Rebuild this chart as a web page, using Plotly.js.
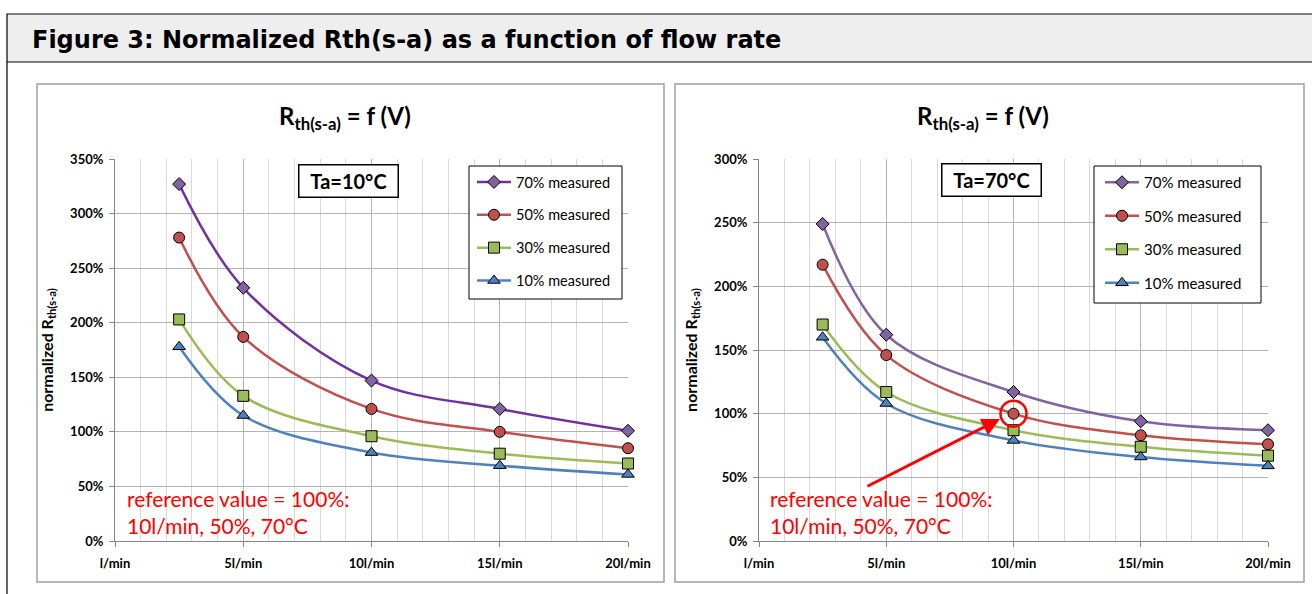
<!DOCTYPE html>
<html>
<head>
<meta charset="utf-8">
<script src="https://cdn.plot.ly/plotly-3.0.1.min.js"></script>
<style>
html,body{margin:0;padding:0;background:#fff;}
#chart{width:1312px;height:594px;}
</style>
</head>
<body>
<div id="chart"></div>
<script>
// ---- data ----
const flowRates = [2.5, 5, 10, 15, 20];
const seriesNames = ['70% measured', '50% measured', '30% measured', '10% measured'];
const ta10_70 = [327, 232, 147, 121, 101];
const ta10_50 = [278, 187, 121, 100, 85];
const ta10_30 = [203, 133, 96, 80, 71];
const ta10_10 = [178, 115, 81, 69, 61];
const ta70_70 = [249, 162, 117, 94, 87];
const ta70_50 = [217, 146, 100, 83, 76];
const ta70_30 = [170, 117, 87, 74, 67];
const ta70_10 = [160, 108, 79, 66, 59];
const xTickVals = [0, 5, 10, 15, 20];
const xTickText = ['l/min', '5l/min', '10l/min', '15l/min', '20l/min'];
const yTickVals10 = [0, 50, 100, 150, 200, 250, 300, 350];
const yTickVals70 = [0, 50, 100, 150, 200, 250, 300];
const referencePoint = {x: 10, y: 100};

// ---- helpers ----
const W = 1312, H = 594;
const px = x => x / W;
const py = y => 1 - y / H;
const FONT = 'Lato, "Open Sans", sans-serif';

const lineColors10 = ['#7030a0', '#c0504d', '#9bbb59', '#4f81bd'];
const lineColors70 = ['#8064a2', '#c0504d', '#9bbb59', '#4f81bd'];
const markerColors = ['#8064a2', '#c0504d', '#9bbb59', '#4f81bd'];
const symbols = ['diamond', 'circle', 'square', 'triangle-up'];
const sizes = [10, 11, 11, 11];

function mk(yv, i, xa, ya, lcol, leg) {
  return {
    x: flowRates, y: yv, type: 'scatter', mode: 'lines+markers',
    name: seriesNames[i], xaxis: xa, yaxis: ya, legend: leg,
    legendgroup: leg + i, cliponaxis: false,
    line: {color: lcol[i], width: 2.5, shape: 'spline', smoothing: 1},
    marker: {symbol: symbols[i], size: sizes[i], color: markerColors[i], line: {color: '#000', width: 1}}
  };
}
const data = [
  mk(ta10_70, 0, 'x', 'y', lineColors10, 'legend'),
  mk(ta10_50, 1, 'x', 'y', lineColors10, 'legend'),
  mk(ta10_30, 2, 'x', 'y', lineColors10, 'legend'),
  mk(ta10_10, 3, 'x', 'y', lineColors10, 'legend'),
  mk(ta70_70, 0, 'x2', 'y2', lineColors70, 'legend2'),
  mk(ta70_50, 1, 'x2', 'y2', lineColors70, 'legend2'),
  mk(ta70_30, 2, 'x2', 'y2', lineColors70, 'legend2'),
  mk(ta70_10, 3, 'x2', 'y2', lineColors70, 'legend2')
];

function xax(dom, anchor) {
  return {
    domain: dom, anchor: anchor, range: [0, 20], fixedrange: true,
    tickmode: 'array', tickvals: xTickVals, ticktext: xTickText,
    tickfont: {family: FONT, size: 13, color: '#000', weight: 'bold'},
    showgrid: true, gridcolor: '#b3b3b3', gridwidth: 1,
    minor: {dtick: 1, showgrid: true, gridcolor: '#d9d9d9', gridwidth: 1},
    showline: true, linecolor: '#868686', linewidth: 1,
    ticks: 'outside', ticklen: 5, tickcolor: '#868686', zeroline: false,
    ticklabelstandoff: 5
  };
}
function yax(dom, anchor, maxv, tv) {
  return {
    domain: dom, anchor: anchor, range: [0, maxv], fixedrange: true,
    tickmode: 'array', tickvals: tv, ticktext: tv.map(v => v + '%'),
    tickfont: {family: FONT, size: 13, color: '#000', weight: 'bold'},
    showgrid: true, gridcolor: '#b3b3b3', gridwidth: 1,
    showline: true, linecolor: '#868686', linewidth: 1,
    ticks: 'outside', ticklen: 5, tickcolor: '#868686', zeroline: false,
    ticklabelstandoff: 3,
    title: {text: 'normalized R<sub>th(s-a)</sub>', font: {family: FONT, size: 16, color: '#000', weight: 'bold'}, standoff: 12}
  };
}
const yDom = [py(541), py(159)];

function legendCfg(x, y, fs) {
  return {
    x: x, y: y, xanchor: 'left', yanchor: 'top', xref: 'paper', yref: 'paper',
    bgcolor: 'rgba(0,0,0,0)', borderwidth: 0,
    font: {family: FONT, size: fs, color: '#000'},
    tracegroupgap: 11, itemwidth: 34
  };
}

const red = '#ff0000';
function ann(text, x, y, extra) {
  return Object.assign({text: text, x: px(x), y: py(y), xref: 'paper', yref: 'paper', showarrow: false,
    xanchor: 'center', yanchor: 'middle'}, extra);
}
const titleFont = {family: FONT, size: 24, color: '#000', weight: 'bold'};
const taFont = {family: FONT, size: 20, color: '#000', weight: 'bold'};
const redFont = {family: FONT, size: 21, color: red};
const taBox = {font: taFont, bordercolor: '#000', borderwidth: 1.5, bgcolor: '#fff', borderpad: 3, width: 92, height: 25};
const annotations = [
  ann('<b>Figure 3: Normalized Rth(s-a) as a function of flow rate</b>', 30, 40,
      {xanchor: 'left', font: {family: 'DejaVu Sans', size: 24, color: '#000'}}),
  ann('R<sub>th(s-a)</sub> = f (V)', 345, 118, {font: titleFont}),
  ann('R<sub>th(s-a)</sub> = f (V)', 983, 118, {font: titleFont}),
  ann('Ta=10°C', 348, 181, taBox),
  ann('Ta=70°C', 991, 180, taBox),
  ann('reference value = 100%:<br>10l/min, 50%, 70°C', 125, 512, {xanchor: 'left', align: 'left', font: redFont}),
  ann('reference value = 100%:<br>10l/min, 50%, 70°C', 768, 512, {xanchor: 'left', align: 'left', font: redFont}),
  {text: '', x: px(1000), y: py(419), xref: 'paper', yref: 'paper', showarrow: true, ax: -134, ay: 68,
   arrowhead: 2, arrowsize: 1.2, arrowwidth: 3, arrowcolor: red, standoff: 0}
];

const shapes = [
  // banner
  {type: 'rect', xref: 'paper', yref: 'paper', x0: px(7), x1: px(1320), y0: py(62), y1: py(14), fillcolor: '#eeeeee', line: {color: '#000', width: 1.2}, layer: 'below'},
  {type: 'line', xref: 'paper', yref: 'paper', x0: px(7), x1: px(7), y0: py(62), y1: py(600), line: {color: '#000', width: 1.2}},
  // chart boxes
  {type: 'rect', xref: 'paper', yref: 'paper', x0: px(37), x1: px(664), y0: py(582), y1: py(84), line: {color: '#a0a0a0', width: 1.5}, layer: 'below'},
  {type: 'rect', xref: 'paper', yref: 'paper', x0: px(675), x1: px(1304), y0: py(582), y1: py(84), line: {color: '#a0a0a0', width: 1.5}, layer: 'below'},
  // legend frames
  {type: 'rect', xref: 'paper', yref: 'paper', x0: px(469), x1: px(622), y0: py(299), y1: py(166), fillcolor: '#fff', line: {color: '#000', width: 1}, layer: 'above'},
  {type: 'rect', xref: 'paper', yref: 'paper', x0: px(1094), x1: px(1261), y0: py(303), y1: py(166), fillcolor: '#fff', line: {color: '#000', width: 1}, layer: 'above'},
  // reference circle
  {type: 'circle', xref: 'x2', yref: 'y2', xsizemode: 'pixel', ysizemode: 'pixel', xanchor: referencePoint.x, yanchor: referencePoint.y,
   x0: -13, x1: 13, y0: -13, y1: 13, line: {color: red, width: 2.5}}
];

const layout = {
  width: W, height: H, margin: {l: 0, r: 0, t: 0, b: 0},
  paper_bgcolor: '#fff', plot_bgcolor: '#fff', showlegend: true,
  xaxis: xax([px(115), px(628)], 'y'),
  yaxis: yax(yDom, 'x', 350, yTickVals10),
  xaxis2: xax([px(759), px(1268)], 'y2'),
  yaxis2: yax(yDom, 'x2', 300, yTickVals70),
  legend: legendCfg(px(472), py(166), 14.5),
  legend2: legendCfg(px(1100), py(166), 15),
  annotations: annotations, shapes: shapes
};
Plotly.newPlot('chart', data, layout, {staticPlot: true, displayModeBar: false});
</script>
</body>
</html>
